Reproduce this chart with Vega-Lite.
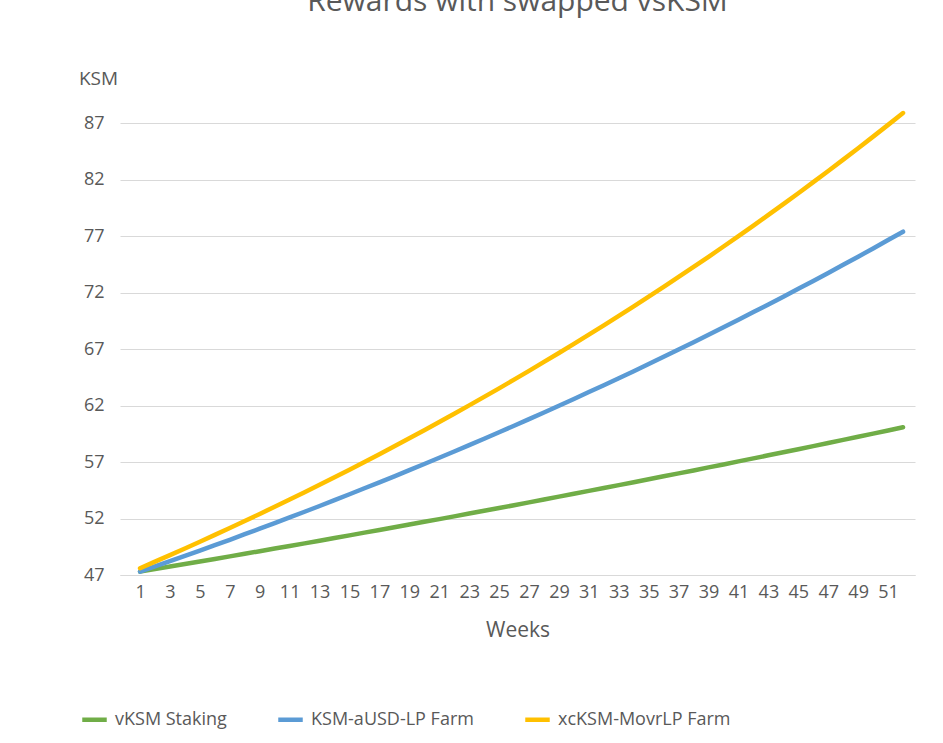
{
"$schema":"https://vega.github.io/schema/vega-lite/v6.json",
"width":795,"height":463,
"autosize":{"type":"none"},
"padding":{"left":120,"top":112,"right":28,"bottom":168},
"background":"white",
"config":{"view":{"stroke":null}},
"title":{"text":"Rewards with swapped vsKSM","fontSize":30,"font":"Open Sans","fontWeight":"normal","color":"#595959","offset":52,"anchor":"middle"},
"data":{"values":[
{"w":1,"g":47.30,"b":47.30,"y":47.60},{"w":2,"g":47.52,"b":47.76,"y":48.18},{"w":3,"g":47.75,"b":48.22,"y":48.76},{"w":4,"g":47.97,"b":48.69,"y":49.35},{"w":5,"g":48.20,"b":49.16,"y":49.94},{"w":6,"g":48.42,"b":49.64,"y":50.55},{"w":7,"g":48.65,"b":50.12,"y":51.16},{"w":8,"g":48.88,"b":50.61,"y":51.78},{"w":9,"g":49.11,"b":51.10,"y":52.41},{"w":10,"g":49.34,"b":51.60,"y":53.04},
{"w":11,"g":49.57,"b":52.10,"y":53.68},{"w":12,"g":49.80,"b":52.60,"y":54.33},{"w":13,"g":50.04,"b":53.11,"y":54.99},{"w":14,"g":50.27,"b":53.63,"y":55.66},{"w":15,"g":50.51,"b":54.15,"y":56.33},{"w":16,"g":50.75,"b":54.68,"y":57.01},{"w":17,"g":50.99,"b":55.21,"y":57.70},{"w":18,"g":51.23,"b":55.74,"y":58.40},{"w":19,"g":51.47,"b":56.28,"y":59.11},{"w":20,"g":51.71,"b":56.83,"y":59.82},
{"w":21,"g":51.95,"b":57.38,"y":60.55},{"w":22,"g":52.19,"b":57.94,"y":61.28},{"w":23,"g":52.44,"b":58.50,"y":62.02},{"w":24,"g":52.69,"b":59.07,"y":62.77},{"w":25,"g":52.93,"b":59.64,"y":63.53},{"w":26,"g":53.18,"b":60.22,"y":64.30},{"w":27,"g":53.43,"b":60.80,"y":65.08},{"w":28,"g":53.68,"b":61.39,"y":65.87},{"w":29,"g":53.94,"b":61.99,"y":66.66},{"w":30,"g":54.19,"b":62.59,"y":67.47},
{"w":31,"g":54.45,"b":63.20,"y":68.29},{"w":32,"g":54.70,"b":63.81,"y":69.11},{"w":33,"g":54.96,"b":64.43,"y":69.95},{"w":34,"g":55.22,"b":65.05,"y":70.79},{"w":35,"g":55.48,"b":65.68,"y":71.65},{"w":36,"g":55.74,"b":66.32,"y":72.52},{"w":37,"g":56.00,"b":66.97,"y":73.40},{"w":38,"g":56.26,"b":67.62,"y":74.28},{"w":39,"g":56.53,"b":68.27,"y":75.18},{"w":40,"g":56.79,"b":68.93,"y":76.09},
{"w":41,"g":57.06,"b":69.60,"y":77.01},{"w":42,"g":57.33,"b":70.28,"y":77.94},{"w":43,"g":57.60,"b":70.96,"y":78.89},{"w":44,"g":57.87,"b":71.65,"y":79.84},{"w":45,"g":58.14,"b":72.34,"y":80.81},{"w":46,"g":58.41,"b":73.04,"y":81.79},{"w":47,"g":58.69,"b":73.75,"y":82.78},{"w":48,"g":58.97,"b":74.47,"y":83.78},{"w":49,"g":59.24,"b":75.19,"y":84.79},{"w":50,"g":59.52,"b":75.92,"y":85.82},
{"w":51,"g":59.80,"b":76.66,"y":86.86},{"w":52,"g":60.08,"b":77.40,"y":87.91}
]},
"transform":[{"fold":["g","b","y"],"as":["k","v"]},
{"lookup":"k","from":{"data":{"values":[{"k":"g","s":"vKSM Staking","o":0},{"k":"b","s":"KSM-aUSD-LP Farm","o":1},{"k":"y","s":"xcKSM-MovrLP Farm","o":2}]},"key":"k","fields":["s","o"]}}],
"mark":{"type":"line","strokeWidth":4.5,"strokeCap":"round","strokeJoin":"round"},
"encoding":{
"x":{"field":"w","type":"quantitative","scale":{"domain":[-0.34,52.8],"nice":false,"zero":false},
"axis":{"values":[1,3,5,7,9,11,13,15,17,19,21,23,25,27,29,31,33,35,37,39,41,43,45,47,49,51],"grid":false,"ticks":false,"domainColor":"#d9d9d9","labelFontSize":18,"labelColor":"#595959","labelFont":"Open Sans","labelPadding":8,"title":"Weeks","titleFontSize":21,"titleFontWeight":"normal","titleColor":"#595959","titleFont":"Open Sans","titlePadding":18}},
"y":{"field":"v","type":"quantitative","scale":{"domain":[47,88],"nice":false,"zero":false},
"axis":{"values":[47,52,57,62,67,72,77,82,87],"domain":false,"ticks":false,"gridColor":"#d9d9d9","labelFontSize":18,"labelColor":"#595959","labelFont":"Open Sans","labelPadding":16,"title":"KSM","titleAngle":0,"titleX":-22,"titleY":-24,"titleAlign":"center","titleFontSize":19,"titleFontWeight":"normal","titleColor":"#595959","titleFont":"Open Sans"}},
"color":{"field":"s","type":"nominal","sort":["vKSM Staking","KSM-aUSD-LP Farm","xcKSM-MovrLP Farm"],
"scale":{"domain":["vKSM Staking","KSM-aUSD-LP Farm","xcKSM-MovrLP Farm"],"range":["#70AD47","#5B9BD5","#FFC000"]},
"legend":{"orient":"none","legendX":-40,"legendY":593,"direction":"horizontal","title":null,"symbolType":"stroke","symbolStrokeWidth":4.5,"symbolSize":600,"labelFontSize":18,"labelColor":"#595959","labelFont":"Open Sans","labelLimit":0,"columnPadding":42,"labelOffset":6}},
"order":{"field":"o"}
}
}
